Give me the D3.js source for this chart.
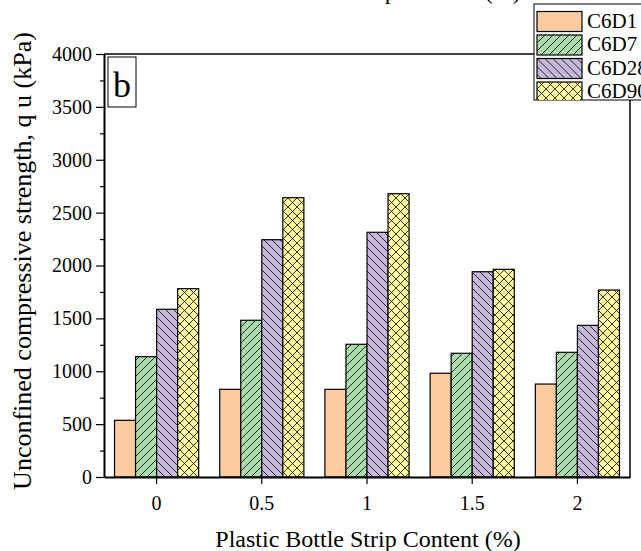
<!DOCTYPE html>
<html>
<head>
<meta charset="utf-8">
<script src="https://cdn.jsdelivr.net/npm/d3@7"></script>
<style>
  body { margin: 0; background: #fff; }
  text { font-family: "Liberation Serif", "Times New Roman", serif; fill: #000; }
</style>
</head>
<body>
<div id="chart"></div>
<script>
// values (kPa)
var contents = ["0", "0.5", "1", "1.5", "2"];
var seriesNames = ["C6D1", "C6D7", "C6D28", "C6D90"];
var c6d1 = [536, 829, 829, 981, 879];
var c6d7 = [1138, 1482, 1255, 1170, 1179];
var c6d28 = [1586, 2244, 2314, 1941, 1434];
var c6d90 = [1781, 2641, 2679, 1964, 1768];
var yTicks = [0, 500, 1000, 1500, 2000, 2500, 3000, 3500, 4000];
var yMinor = [250, 750, 1250, 1750, 2250, 2750, 3250, 3750];

(function () {

var seriesVals = [c6d1, c6d7, c6d28, c6d90];
var fills = ["#fccb9f", "#abdbac", "#c6b8da", "#fdfb9d"];
var pats = [null, "hatchF", "hatchB", "cross"];

var width = 641, height = 551,
    mLeft = 104, mRight = 630, mTop = 54, mBottom = 477;

var svg = d3.select("#chart").append("svg")
    .attr("width", width)
    .attr("height", height);

// hatch patterns
var defs = svg.append("defs");
function hatch(id, col, paths, size) {
    var p = defs.append("pattern")
        .attr("id", id)
        .attr("patternUnits", "userSpaceOnUse")
        .attr("width", size).attr("height", size);
    p.append("rect").attr("width", size).attr("height", size).attr("fill", col);
    paths.forEach(function (d) {
        p.append("path").attr("d", d).attr("stroke", "#000").attr("stroke-width", 0.8).attr("fill", "none");
    });
}
hatch("hatchF", fills[1], ["M-2,2 L2,-2", "M0,8 L8,0", "M6,10 L10,6"], 8);
hatch("hatchB", fills[2], ["M-2,6 L2,10", "M0,0 L8,8", "M6,-2 L10,2"], 8);
hatch("cross", fills[3], ["M0,0 L9,9", "M0,9 L9,0"], 9);

function fillFor(i) { return pats[i] ? "url(#" + pats[i] + ")" : fills[i]; }

var x0 = d3.scaleBand().domain(contents).range([mLeft, mRight]).padding(0);
var x1 = d3.scaleBand().domain(seriesNames)
    .range([x0.bandwidth() * 0.1, x0.bandwidth() * 0.9]);
var y = d3.scaleLinear().domain([0, 4000]).range([mBottom, mTop]);

// partial title of the panel above, cut by the page edge
svg.append("text")
    .attr("x", 368).attr("y", -1)
    .attr("text-anchor", "middle")
    .style("font-size", "24px")
    .text("Plastic Bottle Strip Content (%)");

// bars
var data = [];
contents.forEach(function (c, ci) {
    seriesNames.forEach(function (s, si) {
        data.push({ cat: c, name: s, si: si, v: seriesVals[si][ci] });
    });
});

svg.append("g").selectAll("rect")
    .data(data)
    .enter()
    .append("rect")
    .attr("x", function (d) { return x0(d.cat) + x1(d.name); })
    .attr("y", function (d) { return y(d.v); })
    .attr("width", x1.bandwidth())
    .attr("height", function (d) { return y(0) - y(d.v); })
    .attr("fill", function (d) { return fillFor(d.si); })
    .attr("stroke", "#000")
    .attr("stroke-width", 1.2);

// frame
svg.append("line").attr("x1", mLeft).attr("x2", mRight).attr("y1", mTop).attr("y2", mTop)
    .attr("stroke", "#000").attr("stroke-width", 1.5);
svg.append("line").attr("x1", mRight).attr("x2", mRight).attr("y1", mTop).attr("y2", mBottom)
    .attr("stroke", "#000").attr("stroke-width", 1.5);

// axes
var yAxis = svg.append("g")
    .attr("transform", "translate(" + mLeft + ",0)")
    .call(d3.axisLeft(y).tickValues(yTicks).tickFormat(d3.format("d"))
        .tickSize(8).tickSizeOuter(0).tickPadding(4));
var yMin = svg.append("g")
    .attr("transform", "translate(" + mLeft + ",0)")
    .call(d3.axisLeft(y).tickValues(yMinor).tickSize(4).tickFormat(""));
var xAxis = svg.append("g")
    .attr("transform", "translate(0," + mBottom + ")")
    .call(d3.axisBottom(x0).tickSize(7).tickSizeOuter(0).tickPadding(12));

[yAxis, yMin, xAxis].forEach(function (g) {
    g.attr("font-family", null).attr("font-size", null);
    g.select(".domain").attr("stroke", "#000").attr("stroke-width", 2);
    g.selectAll(".tick line").attr("stroke", "#000").attr("stroke-width", 1.2);
    g.selectAll(".tick text").style("font-size", "20px");
});
yMin.select(".domain").remove();

// axis titles
svg.append("text")
    .attr("x", 368).attr("y", 547)
    .attr("text-anchor", "middle")
    .style("font-size", "24px")
    .text("Plastic Bottle Strip Content (%)");

svg.append("text")
    .attr("transform", "translate(31,261) rotate(-90)")
    .attr("text-anchor", "middle")
    .style("font-size", "26px")
    .text("Unconfined compressive strength, q u (kPa)");

// panel letter
svg.append("rect")
    .attr("x", 108).attr("y", 57).attr("width", 28).attr("height", 50)
    .attr("fill", "#fff").attr("stroke", "#000").attr("stroke-width", 1);
svg.append("text")
    .attr("x", 122).attr("y", 97)
    .attr("text-anchor", "middle")
    .style("font-size", "36px")
    .text("b");

// legend
var lg = svg.append("g");
lg.append("clipPath").attr("id", "lgclip")
    .append("rect").attr("x", 534).attr("y", 4).attr("width", 107).attr("height", 96);
lg.append("rect")
    .attr("x", 534).attr("y", 4).attr("width", 112).attr("height", 96)
    .attr("fill", "#fff").attr("stroke", "#000").attr("stroke-width", 1);
var rows = lg.append("g").attr("clip-path", "url(#lgclip)")
    .selectAll("g")
    .data(seriesNames)
    .enter()
    .append("g")
    .attr("transform", function (d, i) { return "translate(537," + (27.5 + i * 23.5) + ")"; });
rows.append("rect")
    .attr("y", -16)
    .attr("width", 45).attr("height", 20)
    .attr("fill", function (d, i) { return fillFor(i); })
    .attr("stroke", "#000").attr("stroke-width", 1.2);
rows.append("text")
    .attr("x", 50).attr("y", 0)
    .style("font-size", "21px")
    .text(function (d) { return d; });

})();
</script>
</body>
</html>
